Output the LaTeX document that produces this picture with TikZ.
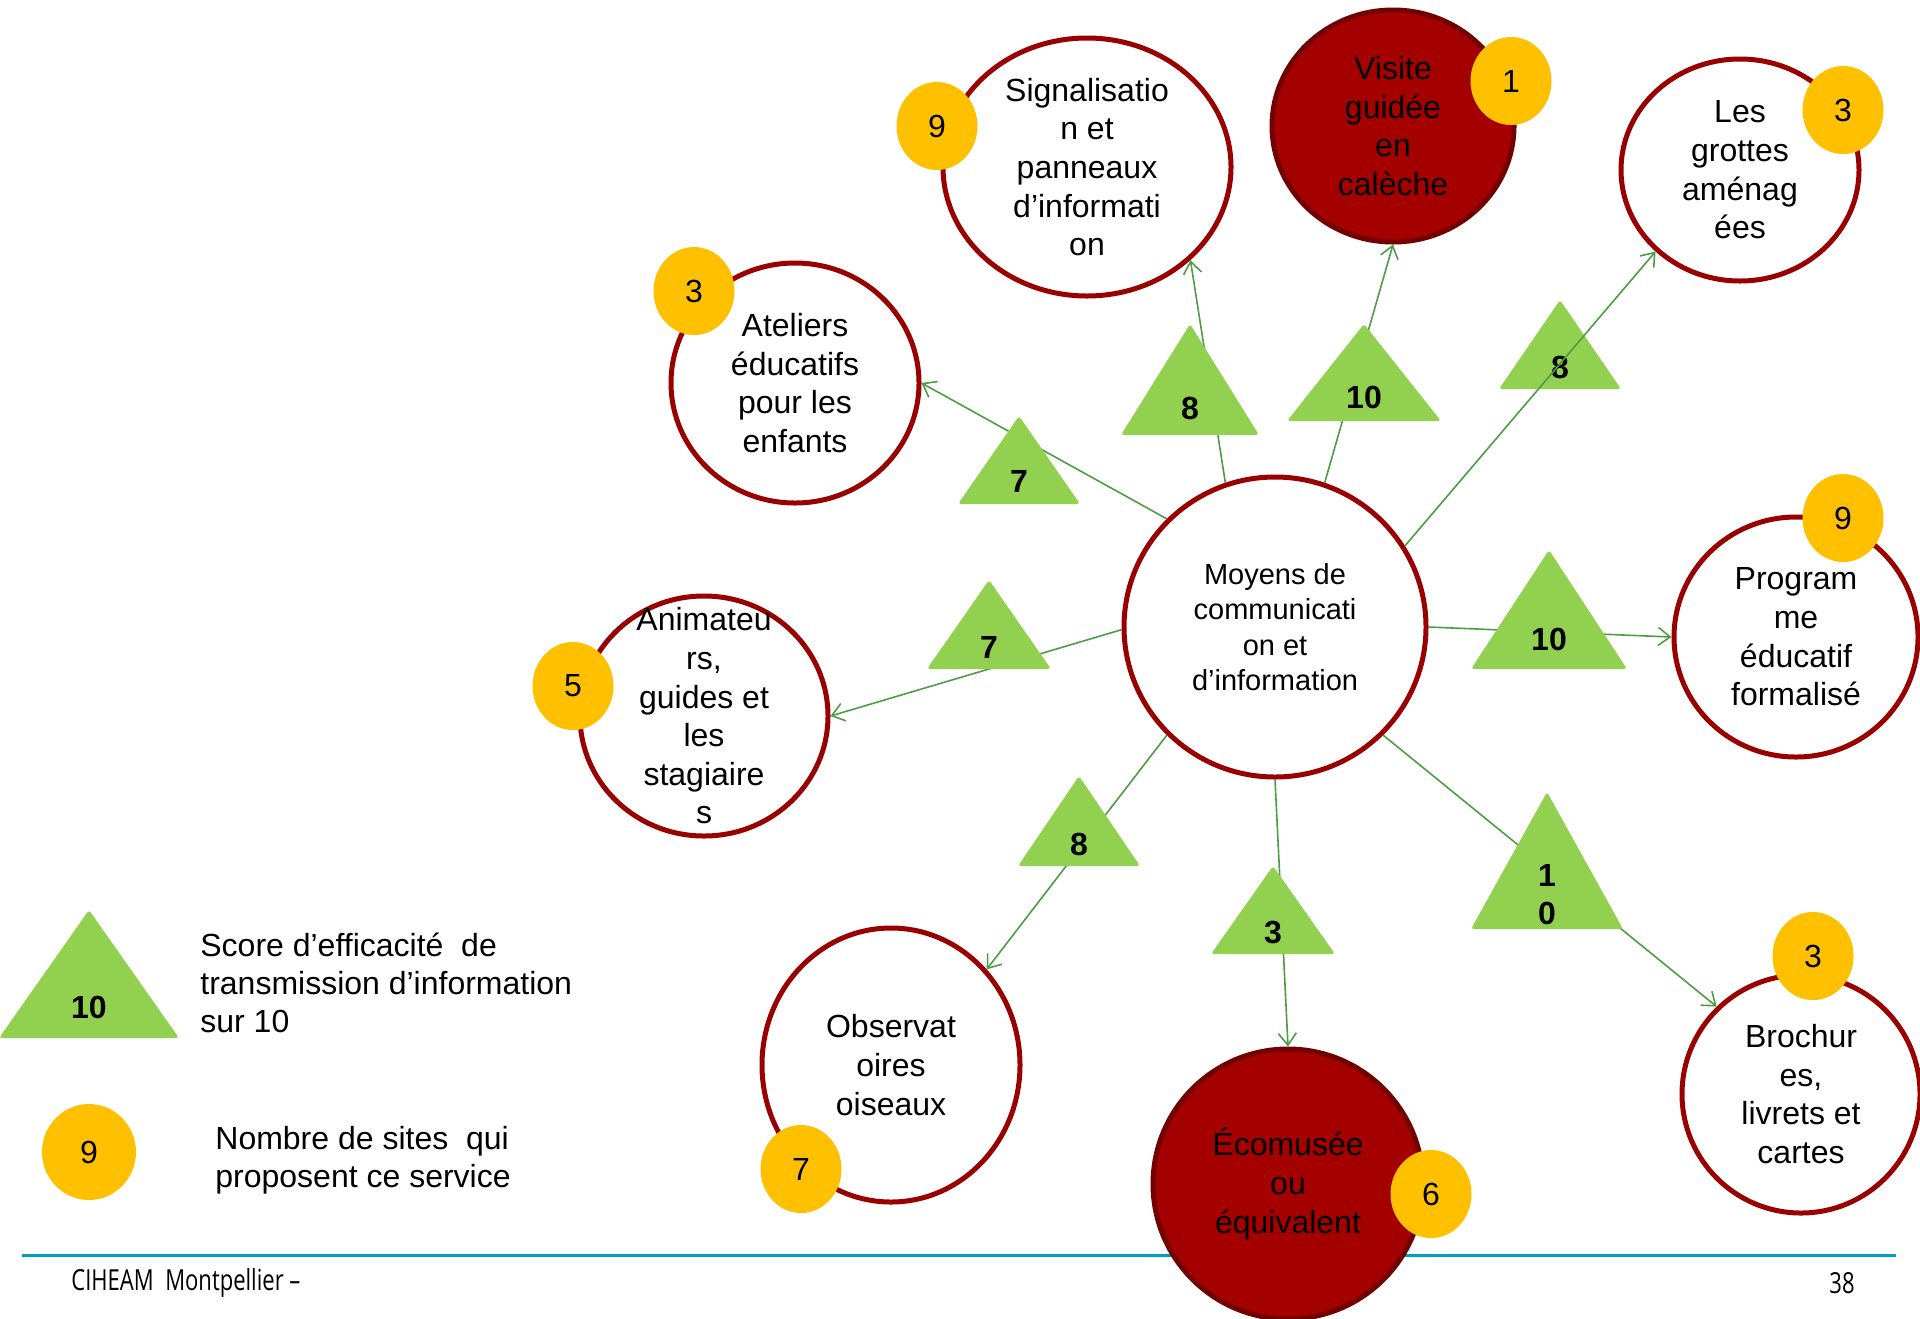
\documentclass[tikz,border=0pt]{standalone}
\usepackage{fontspec}
\setmainfont{Liberation Sans}
\newfontfamily\footfont[FakeStretch=0.76]{Open Sans}
\usepackage{xcolor}
\definecolor{ringred}{RGB}{153,0,0}
\definecolor{brickred}{RGB}{165,0,0}
\definecolor{deepred}{RGB}{115,0,0}
\definecolor{badgegold}{RGB}{255,192,0}
\definecolor{trigreen}{RGB}{146,208,80}
\definecolor{linkgreen}{RGB}{80,155,70}
\definecolor{rulecyan}{RGB}{0,157,196}
\usepackage{tikz}
\usetikzlibrary{shapes.geometric,arrows.meta}

\begin{document}
\begin{tikzpicture}[
  x=0.5pt, y=-0.5pt,
  bubble/.style={ellipse, draw=ringred, fill=white, line width=2.5pt, inner sep=0pt},
  fullbubble/.style={bubble, draw=deepred, fill=brickred},
  bubtxt/.style={align=center, inner sep=0pt, font=\fontsize{16}{19.3}\selectfont},
  badge/.style={ellipse, fill=badgegold, minimum width=40.5pt, minimum height=44pt, inner sep=0pt, font=\fontsize{16}{19}\selectfont},
  link/.style={draw=linkgreen, line width=0.8pt, -{Straight Barb[length=6pt,width=9pt]}},
  tri/.style={fill=trigreen, rounded corners=1.5pt},
  score/.style={align=center, inner sep=0pt, font=\bfseries\fontsize{16}{19}\selectfont},
  legtxt/.style={align=left, anchor=west, inner sep=0pt, font=\fontsize{16}{19}\selectfont},
  foottxt/.style={inner sep=0pt, font=\footfont\fontsize{14.5}{16}\selectfont}
]
\useasboundingbox (0,0) rectangle (1920,1318);

\node[foottxt, anchor=west] (foot) at (71,1283) {CIHEAM~ Montpellier –};
\node[foottxt, anchor=east] (pagenum) at (1855,1283) {38};
\coordinate (rule_l) at (22,1255);
\coordinate (rule_r) at (1896,1255);
\draw[rulecyan, line width=1.5pt] (rule_l) -- (rule_r);

\node[bubble, minimum width=151pt, minimum height=150pt, label={[bubtxt, font=\fontsize{14.5}{17.75}\selectfont]center:{Moyens de\\communicati\\on et\\d’information}}] (moyens) at (1275,627) {};
\node[bubble, minimum width=144pt, minimum height=129pt, label={[bubtxt]center:{Signalisatio\\n et\\panneaux\\d’informati\\on}}] (signal) at (1087,167) {};
\node[fullbubble, minimum width=121pt, minimum height=116pt, label={[bubtxt]center:{Visite\\guidée\\en\\calèche}}] (visite) at (1393,126) {};
\node[bubble, minimum width=119pt, minimum height=111pt, label={[bubtxt]center:{Les\\grottes\\aménag\\ées}}] (grottes) at (1740,170) {};
\node[bubble, minimum width=124pt, minimum height=120pt, label={[bubtxt]center:{Ateliers\\éducatifs\\pour les\\enfants}}] (ateliers) at (795,383) {};
\node[bubble, minimum width=124pt, minimum height=120pt, label={[bubtxt]center:{Animateu\\rs,\\guides et\\les\\stagiaire\\s}}] (animateurs) at (704,716) {};
\node[bubble, minimum width=122pt, minimum height=120pt, label={[bubtxt]center:{Program\\me\\éducatif\\formalisé}}] (programme) at (1796,637) {};
\node[bubble, minimum width=129pt, minimum height=137pt, label={[bubtxt]center:{Observat\\oires\\oiseaux}}] (observ) at (891,1065) {};
\node[fullbubble, minimum width=135pt, minimum height=135pt, label={[bubtxt]center:{Écomusée\\ou\\équivalent}}] (ecomusee) at (1288,1184) {};
\node[bubble, minimum width=119pt, minimum height=119pt, label={[bubtxt]center:{Brochur\\es,\\livrets et\\cartes}}] (brochures) at (1801,1094) {};

\draw[link] (moyens.109) -- (signal.-42);
\draw[link] (moyens.71) -- (visite.-90);
\draw[link] (moyens.135) -- (ateliers.0);
\draw[link] (moyens.181) -- (animateurs.0);
\draw[link] (moyens.0) -- (programme.180);
\draw[link] (moyens.225) -- (observ.45);
\draw[link] (moyens.-90) -- (ecomusee.90);
\draw[link] (moyens.-45) -- (brochures.134);

\foreach \nm/\ax/\ay/\by/\hw/\ly/\lab in {s_signal/1190/324/435/69/408/8, s_visite/1364/324/421/77/397/10, s_grottes/1560/300/389/61/367/8, s_ateliers/1019/416/504/61/481/7, s_animateurs/989/580/669/62/647/7, s_programme/1549/550/669/78/639/10, s_observ/1079/776/866/61/844/8, s_ecomusee/1273/866/954/62/932/3, s_brochures/1547/792/929/76/895/{1\\0}, s_legend/89/910/1038/90/1007/10}{
  \fill[tri] (\ax-\hw,\by) -- (\ax,\ay) -- (\ax+\hw,\by) -- cycle;
  \node[score] (\nm) at (\ax,\ly) {\lab};
}

\draw[link] (moyens.32) -- (grottes.-136);

\node[badge] (n_signal) at (937,126) {9};
\node[badge] (n_visite) at (1511,81) {1};
\node[badge] (n_grottes) at (1843,110) {3};
\node[badge] (n_ateliers) at (694,291) {3};
\node[badge] (n_animateurs) at (573,686) {5};
\node[badge] (n_programme) at (1843,518) {9};
\node[badge] (n_observ) at (801,1169) {7};
\node[badge] (n_ecomusee) at (1431,1194) {6};
\node[badge] (n_brochures) at (1813,956) {3};
\node[badge, minimum width=47pt, minimum height=48pt] (n_legend) at (89,1152) {9};

\node[legtxt] (leg_score) at (200,983) {Score d’efficacité~ de\\transmission d’information\\sur 10};
\node[legtxt] (leg_sites) at (215,1160) {Nombre de sites~ qui\\proposent ce service};
\end{tikzpicture}
\end{document}
